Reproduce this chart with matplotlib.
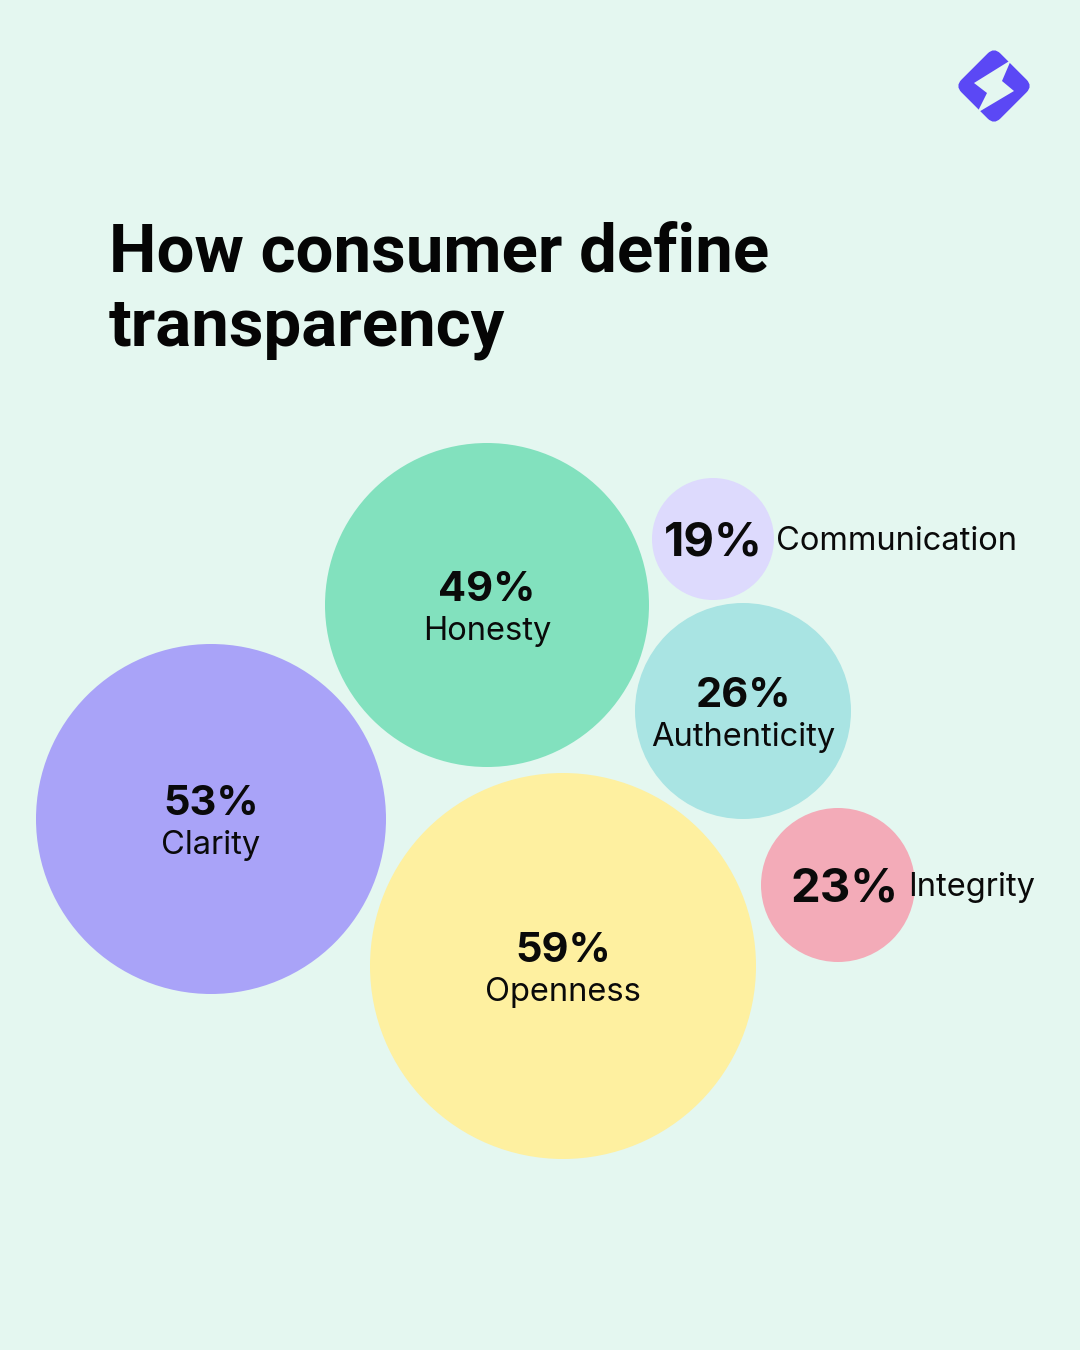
import matplotlib.pyplot as plt
from matplotlib.patches import Circle, FancyBboxPatch, Polygon
from matplotlib.transforms import Affine2D

# data
categories = ['Honesty', 'Communication', 'Authenticity', 'Clarity', 'Openness', 'Integrity']
values = [49, 19, 26, 53, 59, 23]

# layout (pixel coords, y down)
centers = [(487, 605), (713, 539), (743, 711), (211, 819), (563, 966), (838, 885)]
radii = [162, 61, 108, 175, 193, 77]
colors = ['#82E1BE', '#DDDAFD', '#A9E4E3', '#A9A3F8', '#FEF0A0', '#F3ABB8']
# x of label placed beside the circle (None = label inside)
side_x = [None, 776, None, None, None, 908]

BG = '#E4F7F0'
LABEL_FONT = ['Inter', 'DejaVu Sans']

fig = plt.figure(figsize=(10.8, 13.5), dpi=100)
fig.patch.set_facecolor(BG)
ax = fig.add_axes([0, 0, 1, 1])
ax.set_xlim(0, 1080)
ax.set_ylim(1350, 0)
ax.set_aspect('equal')
ax.axis('off')

for cat, val, (cx, cy), r, col, sx in zip(categories, values, centers, radii, colors, side_x):
    ax.add_patch(Circle((cx, cy), r, facecolor=col, edgecolor='none'))
    if sx is not None:
        # percentage sits inside the circle, label to its right
        ax.text(sx - 63, cy + 17, f'{val}%', fontsize=34, fontweight='bold', family=LABEL_FONT,
                ha='center', va='baseline', color='#0a0a0a')
        ax.text(sx, cy + 11, cat, fontsize=23.5, family=LABEL_FONT,
                ha='left', va='baseline', color='#0a0a0a')
    else:
        ax.text(cx, cy - 4, f'{val}%', fontsize=30, fontweight='bold', family=LABEL_FONT,
                ha='center', va='baseline', color='#0a0a0a')
        ax.text(cx, cy + 35, cat, fontsize=23.5, family=LABEL_FONT,
                ha='center', va='baseline', color='#0a0a0a')

# title
title_font = ['Roboto', 'Liberation Sans', 'DejaVu Sans']
ax.text(109, 272, 'How consumer define', fontsize=48.3, fontweight='bold',
        family=title_font, ha='left', va='baseline', color='#050505')
ax.text(109, 345, 'transparency', fontsize=48.3, fontweight='bold',
        family=title_font, ha='left', va='baseline', color='#050505')

# logo: rounded diamond with a bolt cut out
lx, ly = 994, 86
side = 47
rot = Affine2D().rotate_deg_around(lx, ly, 45) + ax.transData
ax.add_patch(FancyBboxPatch((lx - side / 2, ly - side / 2), side, side,
                            boxstyle='round,pad=4,rounding_size=9',
                            facecolor='#5B48F5', edgecolor='none', transform=rot))
bolt = [(1011, 60), (974, 83), (987, 93), (977, 113), (1014, 91), (1002, 81)]
ax.add_patch(Polygon(bolt, closed=True, facecolor=BG, edgecolor='none'))

fig.savefig('out.png', dpi=100, facecolor=BG)
